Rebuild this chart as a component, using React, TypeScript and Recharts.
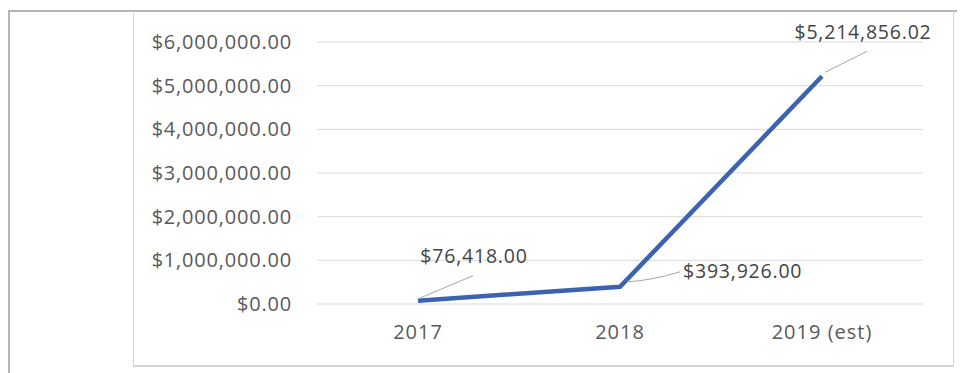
import {
  ComposedChart,
  Line,
  XAxis,
  YAxis,
  CartesianGrid,
  LabelList,
} from "recharts"

const years = ["2017", "2018", "2019 (est)"]
const revenue = [76418, 393926, 5214856.02]
const yTicks = [0, 1000000, 2000000, 3000000, 4000000, 5000000, 6000000]

const data = years.map((year, i) => ({ year, revenue: revenue[i] }))

const FONT = "'Open Sans', Lato, sans-serif"

const money = (v: number) =>
  "$" + v.toLocaleString("en-US", { minimumFractionDigits: 2, maximumFractionDigits: 2 })

// where each data label sits relative to its point, plus its leader line
const labelSpots = [
  { dx: 56, dy: -43, anchor: "middle", lead: "M3,-3 L55,-25" },
  { dx: 63, dy: -14, anchor: "start", lead: "M7,-5 Q30,-6 60,-15" },
  { dx: 41, dy: -43, anchor: "middle", lead: "M3,-4 L45,-25" },
]

function DataLabel(props: any) {
  const { x, y, value, index } = props
  const spot = labelSpots[index] ?? labelSpots[0]
  return (
    <g transform={`translate(${x},${y})`}>
      <path d={spot.lead} stroke="#a6a6a6" strokeWidth={1} fill="none" />
      <text
        x={spot.dx}
        y={spot.dy}
        textAnchor={spot.anchor}
        dominantBaseline="middle"
        fill="#444"
        fontSize={19.5}
        letterSpacing={0.8}
        fontFamily={FONT}
      >
        {money(value)}
      </text>
    </g>
  )
}

export default function App() {
  return (
    <div style={{ position: "relative", width: 957, height: 365 }}>
      <div
        style={{
          position: "absolute",
          left: 0,
          top: 2,
          width: 957,
          height: 363,
          borderTop: "2px solid #b4b4b4",
          borderLeft: "2px solid #b4b4b4",
          boxSizing: "border-box",
        }}
      />
      <div
        style={{
          position: "absolute",
          left: 125,
          top: 3,
          width: 821,
          height: 356,
          borderLeft: "1px solid #d4d4d4",
          borderRight: "1px solid #d4d4d4",
          borderBottom: "2px solid #d4d4d4",
          boxSizing: "border-box",
        }}
      />
      <div style={{ position: "absolute", left: 0, top: 0 }}>
        <ComposedChart
          width={957}
          height={365}
          data={data}
          margin={{ top: 34, right: 42, bottom: 39, left: 0 }}
        >
          <CartesianGrid vertical={false} stroke="#d9d9d9" />
          <XAxis
            dataKey="year"
            scale="band"
            height={30}
            axisLine={false}
            tickLine={false}
            tickSize={0}
            tickMargin={21}
            tick={{ fill: "#595959", fontSize: 20, fontFamily: FONT, letterSpacing: 1 }}
          />
          <YAxis
            width={309}
            domain={[0, 6000000]}
            ticks={yTicks}
            axisLine={false}
            tickLine={false}
            tickSize={0}
            tickMargin={25}
            tickFormatter={money}
            tick={{ fill: "#595959", fontSize: 20, fontFamily: FONT, letterSpacing: 0.8 }}
          />
          <Line
            dataKey="revenue"
            stroke="#3b63ae"
            strokeWidth={4.5}
            dot={false}
            isAnimationActive={false}
          >
            <LabelList dataKey="revenue" content={DataLabel} />
          </Line>
        </ComposedChart>
      </div>
    </div>
  )
}
